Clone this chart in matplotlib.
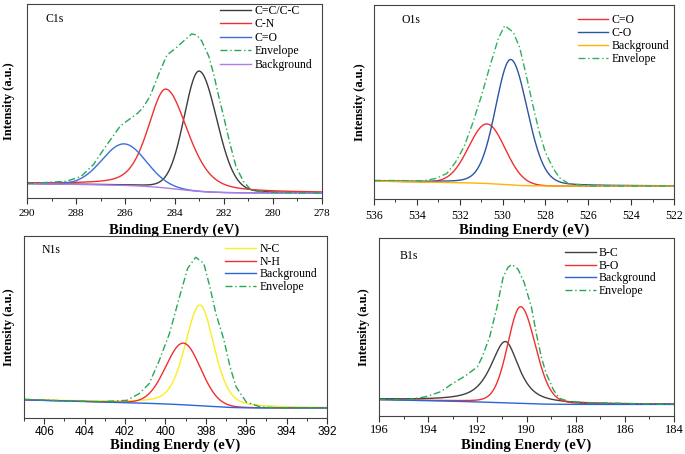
import numpy as np
import matplotlib
matplotlib.use("Agg")
import matplotlib.pyplot as plt

# ── Fit components: centre (eV), height, half-widths (high-BE / low-BE side), Lorentz share
c1_names = ['C=C/C-C', 'C-N', 'C=O']
c1_center = [283.0, 284.35, 286.05]
c1_height = [62.0, 51.0, 21.4]
c1_hw_hi = [0.72, 0.85, 1.05]
c1_hw_lo = [0.85, 1.05, 1.05]
c1_lor = [0.1, 0.4, 0.0]
c1_bg = [2.6, 6.2, 283.8, 0.7, 0.2]          # low level, high level, mid, width, slope
c1_env_e = [290, 288.4, 287.8, 287.3, 286.8, 286.2, 285.9, 285.5, 285.3, 285.0, 284.6,
            284.3, 284.0, 283.7, 283.3, 283.1, 282.9, 282.6, 282.4, 282.2, 282.0,
            281.75, 281.5, 281.2, 280.9, 280.3, 278]
c1_env_i = [7.4, 8.6, 11.1, 17.2, 26.6, 37.2, 40.0, 43.7, 46.3, 52.3, 65.2,
            73.8, 76.7, 80.1, 84.6, 84.0, 81.1, 72.9, 63.5, 52.3, 42.0,
            28.3, 16.3, 8.6, 4.3, 2.9, 2.6]

o1_names = ['C=O', 'C-O']
o1_center = [530.73, 529.62]
o1_height = [30.7, 64.7]
o1_hw_hi = [1.0, 0.84]
o1_hw_lo = [1.0, 0.92]
o1_lor = [0.0, 0.15]
o1_bg = [6.7, 8.0, 529.8, 0.5, 0.2]
o1_env_e = [536, 533.7, 533.1, 532.6, 532.2, 531.8, 531.4, 531.0, 530.6, 530.2, 529.9,
            529.5, 529.2, 528.9, 528.6, 528.3, 528.0, 527.65, 527.35, 526.9, 525.9, 522]
o1_env_i = [9.6, 9.4, 10.6, 13.2, 18.9, 26.9, 38.9, 52.7, 68.1, 82.7, 89.4,
            86.0, 78.0, 64.0, 49.0, 35.0, 24.0, 16.0, 11.0, 7.8, 6.7, 6.7]

n1_names = ['N-C', 'N-H']
n1_center = [398.29, 399.11]
n1_height = [55.4, 33.9]
n1_hw_hi = [0.86, 1.03]
n1_hw_lo = [0.83, 1.01]
n1_lor = [0.35, 0.05]
n1_bg = [5.5, 7.2, 397.8, 0.8, 0.3]
n1_env_e = [407.0, 404.9, 403.2, 401.9, 401.3, 400.8, 400.3, 399.8, 399.3, 398.9, 398.5,
            398.1, 397.8, 397.5, 397.1, 396.8, 396.5, 396.0, 395.3, 394.2, 392.0]
n1_env_i = [10.3, 9.4, 9.0, 9.7, 13.4, 18.9, 31.7, 46.4, 66.6, 82.2, 88.3,
            85.0, 72.1, 57.4, 42.8, 28.1, 17.1, 8.8, 6.1, 5.5, 5.5]

b1_names = ['B-C', 'B-O']
b1_center = [190.86, 190.24]
b1_height = [34.5, 54.4]
b1_hw_hi = [0.71, 0.62]
b1_hw_lo = [0.65, 0.71]
b1_lor = [0.75, 0.15]
b1_bg = [6.5, 7.6, 190.3, 0.8, 0.28]
b1_env_e = [196.0, 194.9, 194.1, 193.5, 193.0, 192.45, 192.0, 191.8, 191.5, 191.2, 190.95,
            190.75, 190.6, 190.35, 190.1, 189.8, 189.6, 189.4, 189.2, 188.9, 188.65,
            188.25, 187.4, 186.1, 184.0]
b1_env_i = [9.3, 9.0, 10.8, 13.6, 18.3, 22.9, 27.6, 33.2, 44.4, 61.2, 78.0,
            83.6, 85.1, 82.6, 75.2, 61.2, 46.3, 33.2, 23.9, 14.6, 9.9,
            8.0, 7.5, 7.1, 6.5]

SERIF = 'Liberation Serif'
SANS = 'Liberation Sans'
ENV_STYLE = (0, (5, 2, 1, 2))


def peak(e, c, h, hw_hi, hw_lo, m):
    hw = np.where(e >= c, hw_hi, hw_lo)
    u = ((e - c) / hw) ** 2
    return h * ((1 - m) * np.exp(-np.log(2) * u) + m / (1 + u))


def background(e, p):
    lo, hi, mid, w, slope = p
    return lo + (hi + slope * (e - mid) - lo) / (1 + np.exp(-(e - mid) / w))


def panel(rect, xlim, names, center, height, hw_hi, hw_lo, lor, bgp, env_e, env_i,
          colors, bg_color, env_color, order, tag, tag_xy, leg_xy, leg_sp, tick_font,
          tick_size, ylab_x, xlab_y, tick_pad):
    ax = fig.add_axes(rect)
    e = np.linspace(xlim[0], xlim[1], 800)
    bg = background(e, bgp)
    lines = {}
    for i, n in enumerate(names):
        lines[n], = ax.plot(e, bg + peak(e, center[i], height[i], hw_hi[i], hw_lo[i], lor[i]),
                            color=colors[i], lw=1.0, label=n)
    lines['Background'], = ax.plot(e, bg, color=bg_color, lw=1.0, label='Background')
    lines['Envelope'], = ax.plot(env_e, env_i, color=env_color, lw=1.0, ls=ENV_STYLE,
                                 label='Envelope')
    ax.set_xlim(*xlim)
    ax.set_ylim(0, 100)
    ax.set_yticks([])
    ax.set_xticks(np.arange(xlim[1], xlim[0] + 0.1, 2))
    ax.set_xticks(np.arange(xlim[1], xlim[0] + 0.1, 1), minor=True)
    ax.tick_params(axis='x', which='major', length=4, width=0.8, pad=tick_pad,
                   labelsize=tick_size, color='#333333')
    ax.tick_params(axis='x', which='minor', length=2, width=0.7, color='#333333')
    for lab in ax.get_xticklabels():
        lab.set_fontfamily(tick_font)
    for s in ax.spines.values():
        s.set_linewidth(0.8)
        s.set_color('#444444')
    ax.set_xlabel('Binding Enerdy (eV)', fontfamily=SERIF, fontweight='bold', fontsize=10.5)
    ax.xaxis.set_label_coords(0.5, xlab_y)
    ax.set_ylabel('Intensity (a.u.)', fontfamily=SERIF, fontweight='bold', fontsize=9)
    ax.yaxis.set_label_coords(ylab_x, 0.5)
    ax.text(tag_xy[0], tag_xy[1], tag, transform=ax.transAxes, fontfamily=SERIF,
            fontsize=8.5, ha='left', va='center')
    ax.legend([lines[k] for k in order], order, loc='upper left', bbox_to_anchor=leg_xy,
              frameon=False, prop={'family': SERIF, 'size': 8.5}, handlelength=2.6,
              handletextpad=0.3, labelspacing=leg_sp, borderpad=0, borderaxespad=0)
    return ax


fig = plt.figure(figsize=(6.85, 4.54), dpi=100)

panel([27 / 685, 1 - 198 / 454, 295 / 685, 194 / 454], (290, 278),
      c1_names, c1_center, c1_height, c1_hw_hi, c1_hw_lo, c1_lor, c1_bg, c1_env_e, c1_env_i,
      ['#3c3c3c', '#f03030', '#3a70d8'], '#b07ae8', '#25a855',
      ['C=C/C-C', 'C-N', 'C=O', 'Envelope', 'Background'], 'C1s', (0.064, 0.923),
      (0.654, 0.995), 0.12, SERIF, 8, -0.041, -0.13, 4)

panel([374 / 685, 1 - 199 / 454, 300 / 685, 194 / 454], (536, 522),
      o1_names, o1_center, o1_height, o1_hw_hi, o1_hw_lo, o1_lor, o1_bg, o1_env_e, o1_env_i,
      ['#f03030', '#2a55a0'], '#ffb400', '#30b060',
      ['C=O', 'C-O', 'Background', 'Envelope'], 'O1s', (0.092, 0.923),
      (0.679, 0.955), 0.1, SERIF, 8.5, -0.027, -0.125, 4)

panel([24 / 685, 1 - 418 / 454, 303 / 685, 182 / 454], (407, 392),
      n1_names, n1_center, n1_height, n1_hw_hi, n1_hw_lo, n1_lor, n1_bg, n1_env_e, n1_env_i,
      ['#f8f020', '#f03030'], '#2a66d8', '#25a855',
      ['N-C', 'N-H', 'Background', 'Envelope'], 'N1s', (0.058, 0.921),
      (0.663, 0.96), 0.04, SANS, 8.5, -0.03, -0.11, 2)

panel([379 / 685, 1 - 416 / 454, 295 / 685, 178 / 454], (196, 184),
      b1_names, b1_center, b1_height, b1_hw_hi, b1_hw_lo, b1_lor, b1_bg, b1_env_e, b1_env_i,
      ['#404040', '#f03030'], '#2a66d8', '#25a855',
      ['B-C', 'B-O', 'Background', 'Envelope'], 'B1s', (0.069, 0.897),
      (0.63, 0.948), 0.04, SERIF, 9, -0.031, -0.125, 1.5)

fig.savefig('out.png', dpi=100)
